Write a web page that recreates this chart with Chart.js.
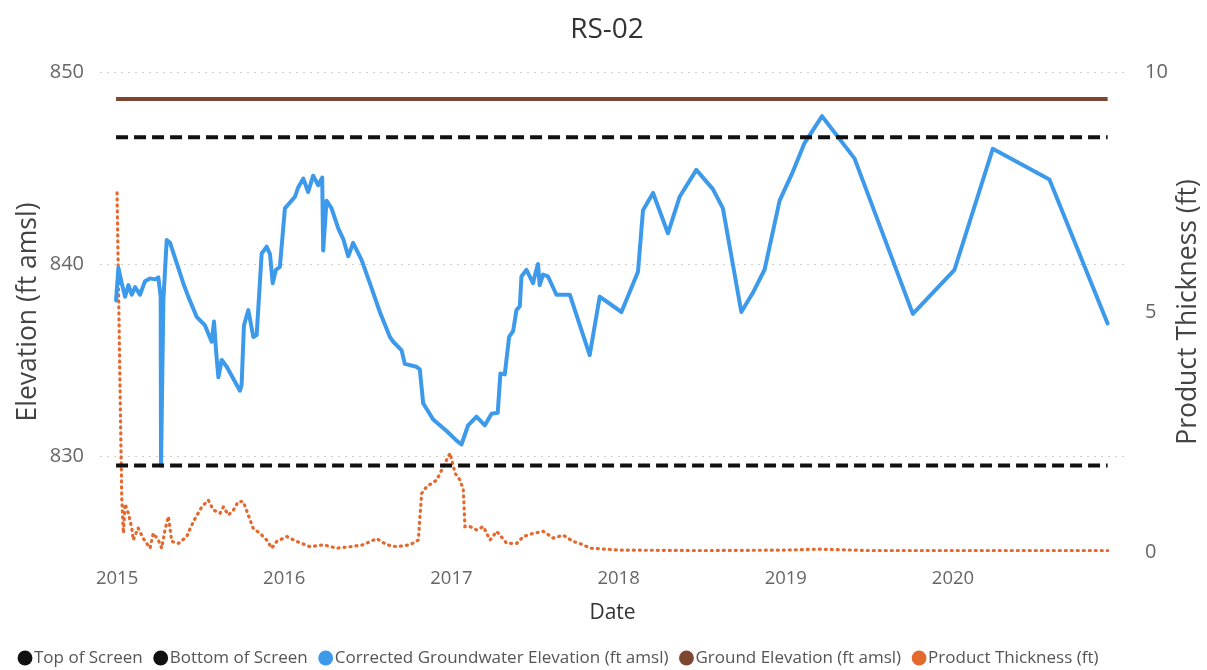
<!DOCTYPE html>
<html>
<head>
<meta charset="utf-8">
<title>RS-02</title>
<script src="https://cdn.jsdelivr.net/npm/chart.js@4.4.1/dist/chart.umd.min.js"></script>
<style>
  html, body { margin: 0; padding: 0; background: #ffffff; }
  #wrap { width: 1207px; height: 670px; }
</style>
</head>
<body>
<div id="wrap"><canvas id="chart" width="1207" height="670"></canvas></div>
<script>
// Tick labels
const yearTicks = [2015, 2016, 2017, 2018, 2019, 2020];
const elevTicks = [830, 840, 850];
const thickTicks = [0, 5, 10];

// Corrected groundwater elevation (ft amsl), dates as decimal years
const gwDates = [
  2014.994, 2015.008, 2015.028, 2015.048, 2015.068, 2015.088, 2015.108, 2015.137, 2015.167, 2015.197,
  2015.227, 2015.247, 2015.261, 2015.263, 2015.277, 2015.297, 2015.317, 2015.357, 2015.396, 2015.426,
  2015.476, 2015.526, 2015.566, 2015.580, 2015.592, 2015.606, 2015.626, 2015.656, 2015.735, 2015.745,
  2015.759, 2015.785, 2015.815, 2015.835, 2015.865, 2015.895, 2015.915, 2015.931, 2015.950, 2015.974,
  2016.004, 2016.024, 2016.044, 2016.064, 2016.084, 2016.114, 2016.143, 2016.173, 2016.203, 2016.227,
  2016.233, 2016.253, 2016.283, 2016.323, 2016.353, 2016.383, 2016.412, 2016.463, 2016.512, 2016.572,
  2016.632, 2016.652, 2016.702, 2016.721, 2016.791, 2016.811, 2016.831, 2016.891, 2016.971, 2017.031,
  2017.060, 2017.100, 2017.150, 2017.200, 2017.240, 2017.277, 2017.293, 2017.319, 2017.345, 2017.369,
  2017.389, 2017.409, 2017.419, 2017.449, 2017.488, 2017.505, 2017.518, 2017.528, 2017.548, 2017.578,
  2017.628, 2017.708, 2017.827, 2017.887, 2018.017, 2018.116, 2018.146, 2018.206, 2018.295, 2018.365,
  2018.465, 2018.564, 2018.624, 2018.734, 2018.803, 2018.873, 2018.963, 2019.042, 2019.112, 2019.217,
  2019.411, 2019.760, 2020.009, 2020.238, 2020.577, 2020.925
];
const gwElev = [
  838.1, 839.8, 839.0, 838.3, 838.9, 838.4, 838.8, 838.4, 839.1, 839.25,
  839.2, 839.3, 838.3, 829.5, 838.1, 841.25, 841.1, 840.05, 839.0, 838.3,
  837.25, 836.8, 835.95, 837.0, 835.5, 834.1, 835.0, 834.65, 833.4, 833.7,
  836.8, 837.6, 836.2, 836.3, 840.55, 840.9, 840.5, 839.0, 839.7, 839.85,
  842.9, 843.1, 843.3, 843.5, 844.0, 844.45, 843.75, 844.6, 844.1, 844.5,
  840.7, 843.3, 842.9, 841.85, 841.3, 840.4, 841.1, 840.2, 839.0, 837.5,
  836.2, 835.95, 835.5, 834.8, 834.65, 834.5, 832.75, 831.9, 831.3, 830.8,
  830.6, 831.6, 832.05, 831.6, 832.2, 832.25, 834.3, 834.25, 836.2, 836.5,
  837.6, 837.8, 839.35, 839.7, 839.0, 839.6, 840.0, 838.9, 839.45, 839.35,
  838.4, 838.4, 835.25, 838.3, 837.5, 839.6, 842.8, 843.7, 841.6, 843.5,
  844.9, 843.9, 842.9, 837.5, 838.5, 839.7, 843.3, 844.8, 846.3, 847.7,
  845.5, 837.4, 839.7, 846.0, 844.4, 836.9
];

// Product thickness (ft)
const ptDates = [
  2015.000, 2015.028, 2015.038, 2015.048, 2015.068, 2015.088, 2015.097, 2015.126, 2015.157, 2015.197,
  2015.217, 2015.247, 2015.267, 2015.287, 2015.307, 2015.327, 2015.367, 2015.417, 2015.437, 2015.467,
  2015.507, 2015.546, 2015.576, 2015.616, 2015.636, 2015.666, 2015.696, 2015.725, 2015.755, 2015.785,
  2015.815, 2015.855, 2015.895, 2015.925, 2015.955, 2016.015, 2016.075, 2016.154, 2016.234, 2016.314,
  2016.394, 2016.473, 2016.553, 2016.613, 2016.673, 2016.752, 2016.802, 2016.822, 2016.852, 2016.912,
  2016.952, 2016.992, 2017.022, 2017.051, 2017.071, 2017.081, 2017.111, 2017.151, 2017.191, 2017.231,
  2017.271, 2017.331, 2017.391, 2017.430, 2017.490, 2017.550, 2017.609, 2017.669, 2017.729, 2017.789,
  2017.829, 2018.0, 2018.5, 2019.0, 2019.2, 2019.5, 2020.0, 2020.5, 2020.925
];
const ptThick = [
  7.48, 1.15, 0.39, 1.0, 0.8, 0.5, 0.25, 0.5, 0.28, 0.08,
  0.39, 0.25, 0.08, 0.46, 0.74, 0.22, 0.18, 0.32, 0.49, 0.70,
  0.94, 1.08, 0.875, 0.81, 0.94, 0.77, 0.875, 1.05, 1.05, 0.77,
  0.49, 0.39, 0.25, 0.08, 0.22, 0.32, 0.22, 0.11, 0.15, 0.08,
  0.11, 0.15, 0.28, 0.15, 0.11, 0.15, 0.25, 1.22, 1.36, 1.5,
  1.78, 2.06, 1.64, 1.5, 1.3, 0.53, 0.53, 0.46, 0.53, 0.25,
  0.43, 0.18, 0.18, 0.32, 0.39, 0.43, 0.29, 0.35, 0.22, 0.15,
  0.08, 0.04, 0.03, 0.04, 0.06, 0.03, 0.03, 0.03, 0.03
];

// Constant well elevations (ft amsl)
const screenTop = 846.6;
const screenBottom = 829.5;
const groundElev = 848.6;
const recordSpan = [gwDates[0], gwDates[gwDates.length - 1]];

const FONT = "'Open Sans', 'Segoe UI', sans-serif";

const pairs = (xs, ys) => xs.map((x, i) => ({ x: x, y: ys[i] }));
const flat = (v) => recordSpan.map(x => ({ x: x, y: v }));

// Right-hand axis title, reading bottom to top
const rightAxisTitle = {
  id: 'rightAxisTitle',
  afterDraw(chart) {
    const { ctx, chartArea } = chart;
    const s = chart.scales.y2;
    ctx.save();
    ctx.translate(s.right - 19, (chartArea.top + chartArea.bottom) / 2);
    ctx.rotate(-Math.PI / 2);
    ctx.textAlign = 'center';
    ctx.textBaseline = 'middle';
    ctx.font = '26.5px ' + FONT;
    ctx.fillStyle = '#444444';
    ctx.fillText('Product Thickness (ft)', 0, 0);
    ctx.restore();
  }
};

new Chart(document.getElementById('chart'), {
  type: 'line',
  data: {
    datasets: [
      {
        label: 'Top of Screen',
        data: flat(screenTop),
        borderColor: '#111111', backgroundColor: '#111111',
        borderWidth: 4, borderDash: [12, 6], pointRadius: 0, yAxisID: 'y'
      },
      {
        label: 'Bottom of Screen',
        data: flat(screenBottom),
        borderColor: '#111111', backgroundColor: '#111111',
        borderWidth: 4, borderDash: [12, 6], pointRadius: 0, yAxisID: 'y'
      },
      {
        label: 'Corrected Groundwater Elevation (ft amsl)',
        data: pairs(gwDates, gwElev),
        borderColor: '#3D9AEB', backgroundColor: '#3D9AEB',
        borderWidth: 4, pointRadius: 0, tension: 0,
        borderJoinStyle: 'round', borderCapStyle: 'round', yAxisID: 'y'
      },
      {
        label: 'Ground Elevation (ft amsl)',
        data: flat(groundElev),
        borderColor: '#7C4630', backgroundColor: '#7C4630',
        borderWidth: 4, pointRadius: 0, yAxisID: 'y'
      },
      {
        label: 'Product Thickness (ft)',
        data: pairs(ptDates, ptThick),
        borderColor: '#E3692F', backgroundColor: '#E3692F',
        borderWidth: 3.2, borderDash: [1, 5], borderCapStyle: 'round',
        pointRadius: 0, tension: 0, yAxisID: 'y2'
      }
    ]
  },
  options: {
    responsive: false,
    animation: false,
    devicePixelRatio: 1,
    layout: { padding: { left: 7, right: 0, top: 0, bottom: 0 } },
    plugins: {
      title: {
        display: true,
        text: 'RS-02',
        color: '#333333',
        font: { family: FONT, size: 28, weight: 'normal' },
        padding: { top: 13.2, bottom: 25.2 }
      },
      legend: {
        position: 'bottom',
        align: 'start',
        maxHeight: 38,
        labels: {
          color: '#555555',
          font: { family: FONT, size: 17 },
          usePointStyle: true,
          pointStyle: 'circle',
          boxWidth: 1,
          boxHeight: 10.5,
          padding: 17.5,
          generateLabels(chart) {
            return Chart.defaults.plugins.legend.labels.generateLabels(chart).map(item => ({
              ...item,
              fillStyle: item.strokeStyle,
              lineWidth: 0,
              lineDash: [],
              pointStyle: 'circle'
            }));
          }
        }
      },
      tooltip: { enabled: false }
    },
    scales: {
      x: {
        type: 'linear',
        min: 2014.898,
        max: 2021.029,
        afterBuildTicks(axis) { axis.ticks = yearTicks.map(v => ({ value: v })); },
        afterFit(axis) { axis.height = 80; },
        grid: { display: false, drawTicks: false },
        border: { display: false },
        ticks: {
          color: '#666666',
          font: { family: FONT, size: 18.5 },
          padding: 16,
          maxRotation: 0,
          autoSkip: false,
          callback: (v) => String(v)
        },
        title: {
          display: true,
          text: 'Date',
          color: '#333333',
          font: { family: FONT, size: 21 },
          padding: { top: 0, bottom: 6.5 }
        }
      },
      y: {
        position: 'left',
        min: 825,
        max: 850,
        afterBuildTicks(axis) { axis.ticks = elevTicks.map(v => ({ value: v })); },
        afterFit(axis) { axis.width = 93; },
        grid: { color: '#cfcfcf', lineWidth: 1, drawTicks: false },
        border: { display: false, dash: [2, 5] },
        ticks: {
          color: '#666666',
          font: { family: FONT, size: 20 },
          padding: 16
        },
        title: {
          display: true,
          text: 'Elevation (ft amsl)',
          color: '#444444',
          font: { family: FONT, size: 26.5 },
          padding: { top: 6, bottom: 0 }
        }
      },
      y2: {
        position: 'right',
        min: 0,
        max: 10,
        afterBuildTicks(axis) { axis.ticks = thickTicks.map(v => ({ value: v })); },
        afterFit(axis) { axis.width = 82; },
        grid: { display: false, drawTicks: false },
        border: { display: false },
        ticks: {
          color: '#666666',
          font: { family: FONT, size: 20 },
          padding: 20
        }
      }
    }
  },
  plugins: [rightAxisTitle]
});
</script>
</body>
</html>
